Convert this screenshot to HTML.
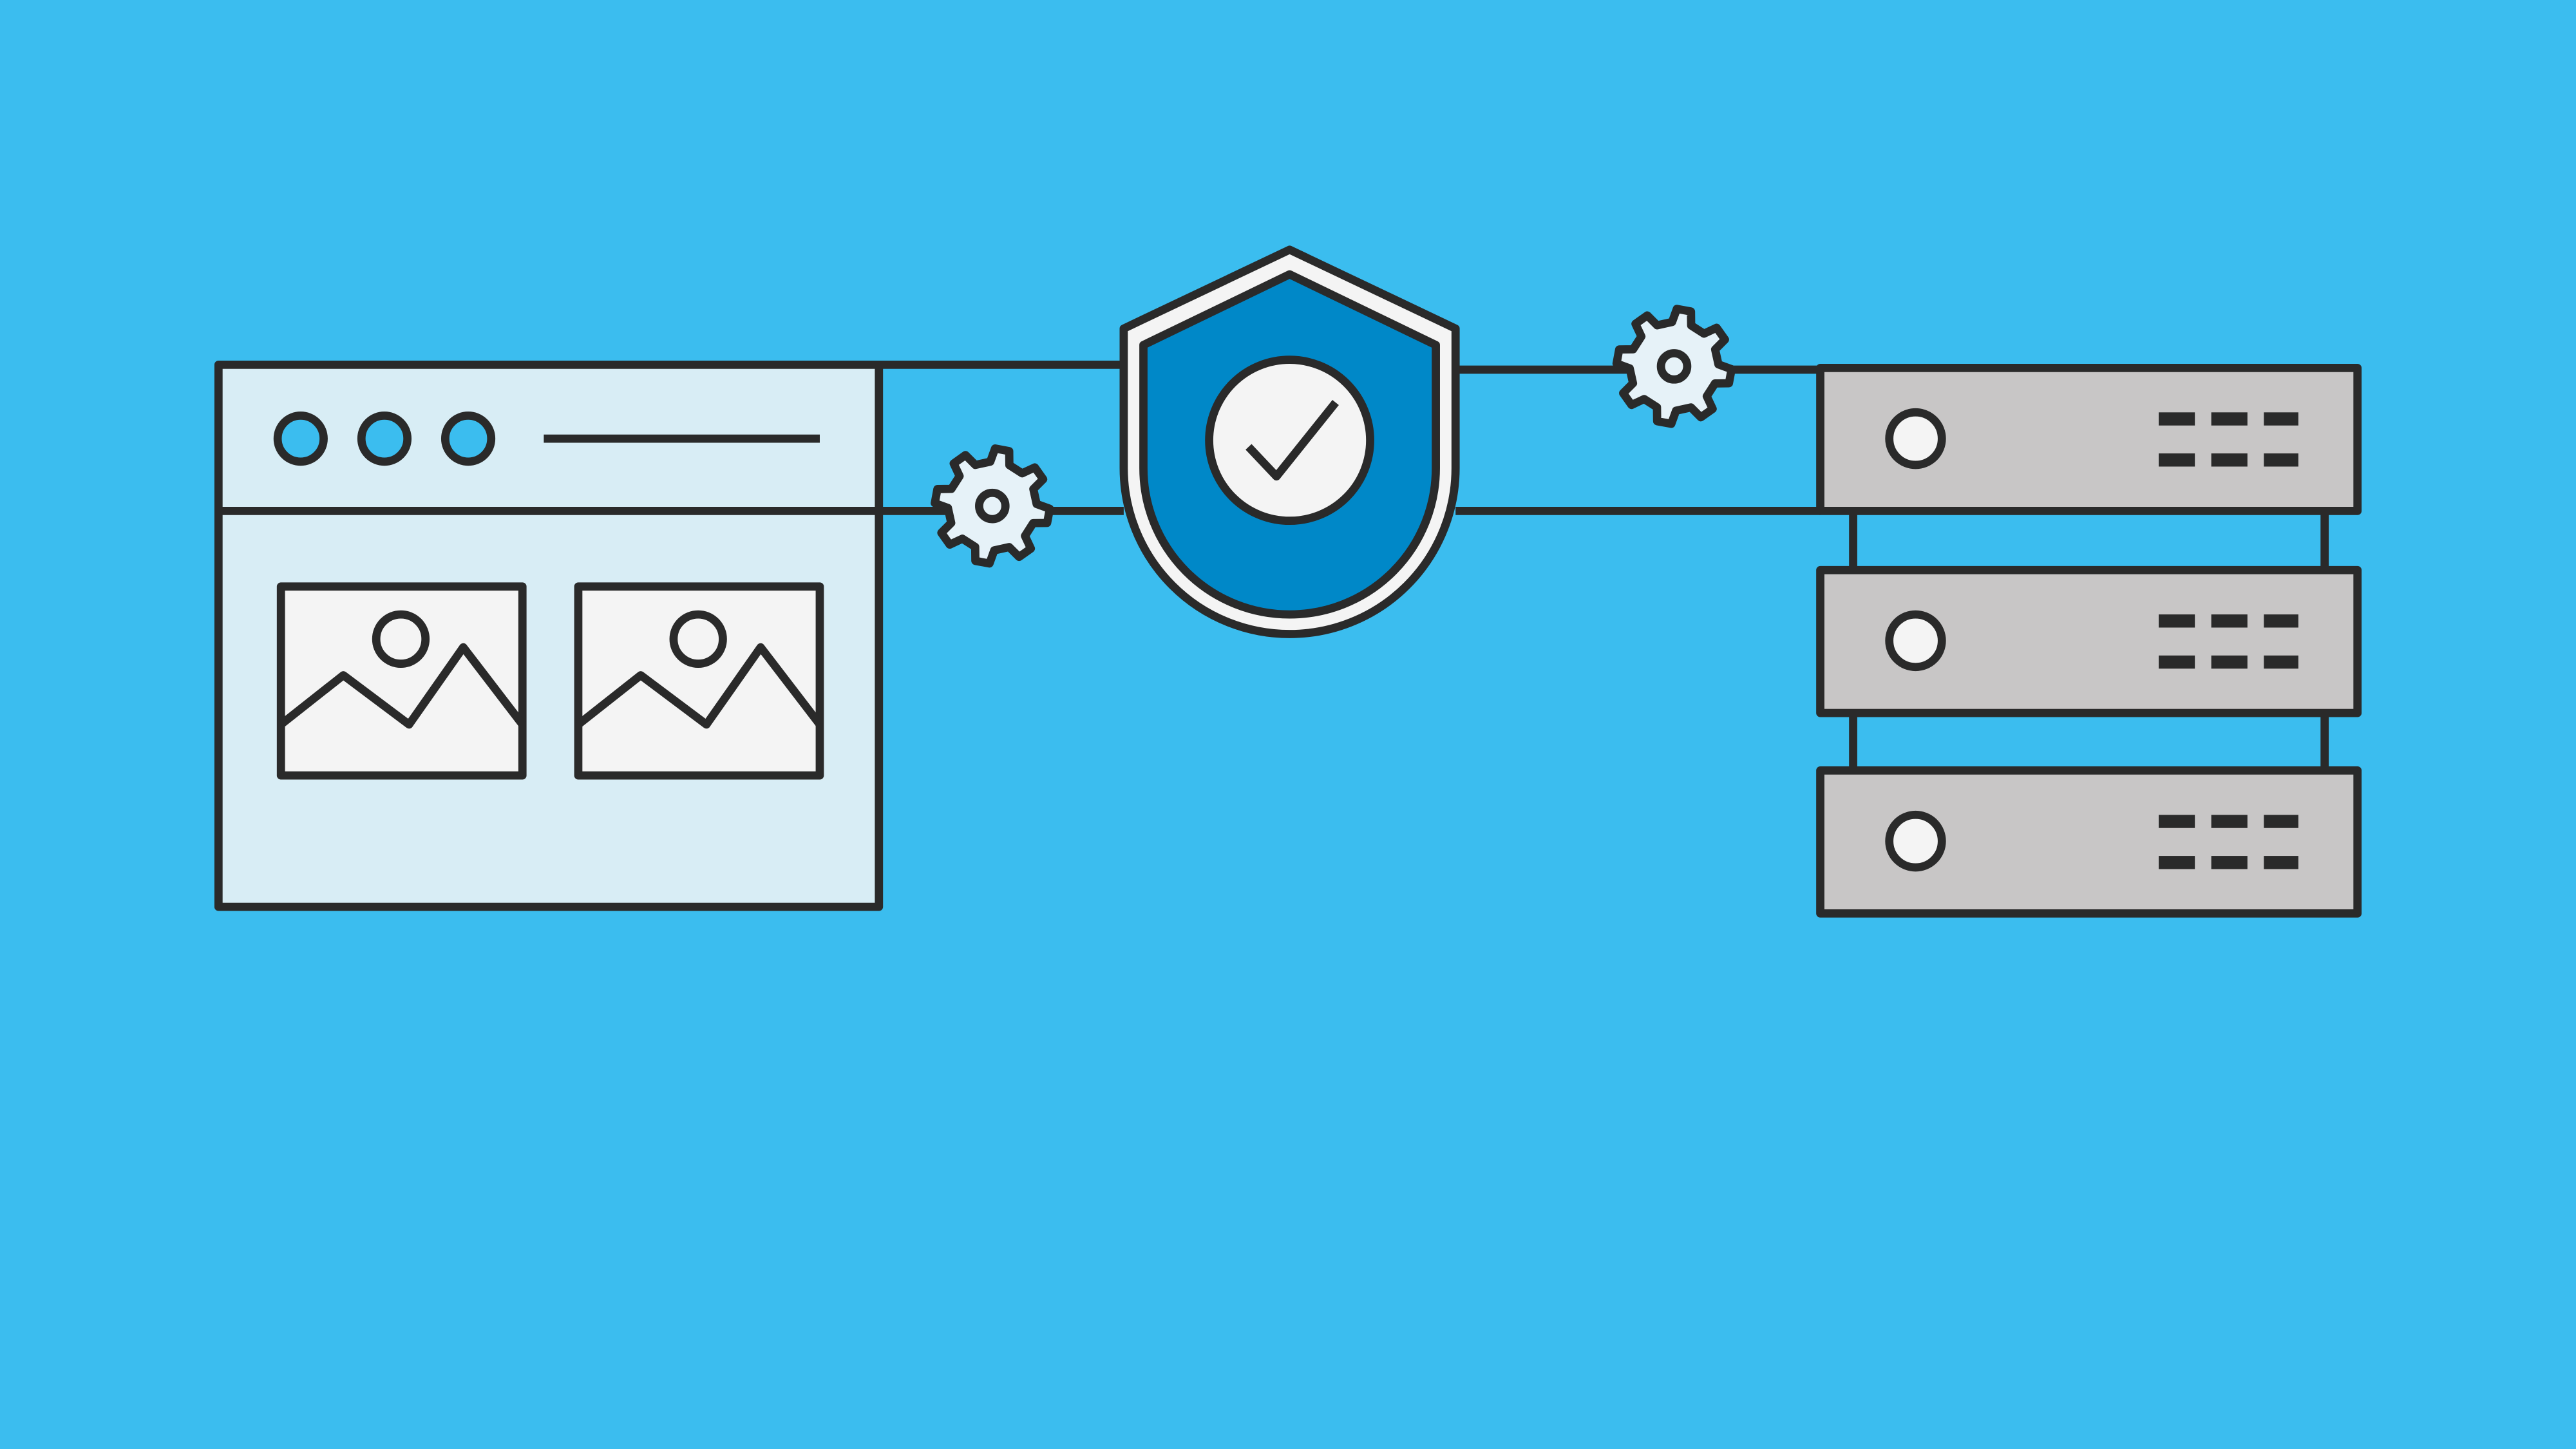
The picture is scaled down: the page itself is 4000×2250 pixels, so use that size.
<!DOCTYPE html>
<html><head><meta charset="utf-8"><style>
html,body{margin:0;padding:0;background:#3BBDEF;}
svg{display:block;}
</style></head><body>
<svg id="s" width="4000" height="2250" viewBox="0 0 1568 882" xmlns="http://www.w3.org/2000/svg">
<rect width="1568" height="882" fill="#3BBDEF"/>
<g stroke="#2a2a2a" stroke-width="5" stroke-linejoin="round" stroke-linecap="butt" fill="none">
<!-- connectors -->
<line x1="535" y1="222" x2="684" y2="222"/>
<line x1="535" y1="311" x2="684" y2="311"/>
<line x1="886" y1="225" x2="1108" y2="225"/>
<line x1="886" y1="311" x2="1108" y2="311"/>
<!-- browser -->
<rect x="133" y="222" width="402" height="330" fill="#d8edf5"/>
<line x1="133" y1="311" x2="535" y2="311"/>
<circle cx="183" cy="267" r="14" fill="#3BBDEF"/>
<circle cx="234" cy="267" r="14" fill="#3BBDEF"/>
<circle cx="285" cy="267" r="14" fill="#3BBDEF"/>
<line x1="331" y1="267" x2="499" y2="267"/>
<g>
<rect x="171" y="357" width="147" height="115" fill="#f4f4f4"/>
<circle cx="244" cy="389" r="15" fill="#f4f4f4"/>
<polyline points="171,441 209,411 249,441 282,394 318,441"/>
</g>
<g transform="translate(181,0)">
<rect x="171" y="357" width="147" height="115" fill="#f4f4f4"/>
<circle cx="244" cy="389" r="15" fill="#f4f4f4"/>
<polyline points="171,441 209,411 249,441 282,394 318,441"/>
</g>
<!-- shield -->
<path d="M785,152 L886,200 L886,285 A101,101 0 0 1 684,285 L684,200 Z" fill="#f4f4f4"/>
<path d="M785,167 L874,210 L874,285 A89,89 0 0 1 696,285 L696,210 Z" fill="#0088c8"/>
<circle cx="785" cy="268" r="49" fill="#f4f4f4"/>
<polyline points="760,272 777,290 813,245"/>
<!-- servers -->
<line x1="1128" y1="311" x2="1128" y2="347"/>
<line x1="1415" y1="311" x2="1415" y2="347"/>
<line x1="1128" y1="434" x2="1128" y2="469"/>
<line x1="1415" y1="434" x2="1415" y2="469"/>
<g id="srv">
<rect x="1108" y="224" width="327" height="87" fill="#c8c6c6"/>
<circle cx="1166" cy="267" r="16" fill="#f4f4f4"/>
</g>
<rect x="1108" y="347" width="327" height="87" fill="#c8c6c6"/>
<circle cx="1166" cy="390" r="16" fill="#f4f4f4"/>
<rect x="1108" y="469" width="327" height="87" fill="#c8c6c6"/>
<circle cx="1166" cy="512" r="16" fill="#f4f4f4"/>
<g id="gears"></g>
</g>
<g fill="#2a2a2a">
<rect x="1314" y="251" width="22" height="8"/><rect x="1346" y="251" width="22" height="8"/><rect x="1378" y="251" width="21" height="8"/>
<rect x="1314" y="276" width="22" height="8"/><rect x="1346" y="276" width="22" height="8"/><rect x="1378" y="276" width="21" height="8"/>
<rect x="1314" y="374" width="22" height="8"/><rect x="1346" y="374" width="22" height="8"/><rect x="1378" y="374" width="21" height="8"/>
<rect x="1314" y="399" width="22" height="8"/><rect x="1346" y="399" width="22" height="8"/><rect x="1378" y="399" width="21" height="8"/>
<rect x="1314" y="496" width="22" height="8"/><rect x="1346" y="496" width="22" height="8"/><rect x="1378" y="496" width="21" height="8"/>
<rect x="1314" y="521" width="22" height="8"/><rect x="1346" y="521" width="22" height="8"/><rect x="1378" y="521" width="21" height="8"/>
</g>
</svg>
<script>
(function(){
var g=document.getElementById('gears'),ns='http://www.w3.org/2000/svg';
function gear(cx,cy,rot){
  var pts=[],n=8,ro=35,ri=27;
  for(var i=0;i<n;i++){
    var b=(i*360/n+rot)*Math.PI/180,s=2*Math.PI/n;
    var a=[[ri,-0.5],[ro,-0.3],[ro,0.1],[ri,0.3]];
    // tooth from -0.2 to 0.2 of step
    var seq=[[ri,-0.28],[ro,-0.16],[ro,0.16],[ri,0.28]];
    seq.forEach(function(p){var t=b+p[1]*s;pts.push((cx+p[0]*Math.cos(t)).toFixed(1)+','+(cy+p[0]*Math.sin(t)).toFixed(1));});
  }
  var p=document.createElementNS(ns,'polygon');p.setAttribute('points',pts.join(' '));p.setAttribute('fill','#e6f2f8');g.appendChild(p);
  var c=document.createElementNS(ns,'circle');c.setAttribute('cx',cx);c.setAttribute('cy',cy);c.setAttribute('r',8);c.setAttribute('fill','#e6f2f8');g.appendChild(c);
}
gear(604,308,10);gear(1019,223,10);
})();
</script>
</body></html>
